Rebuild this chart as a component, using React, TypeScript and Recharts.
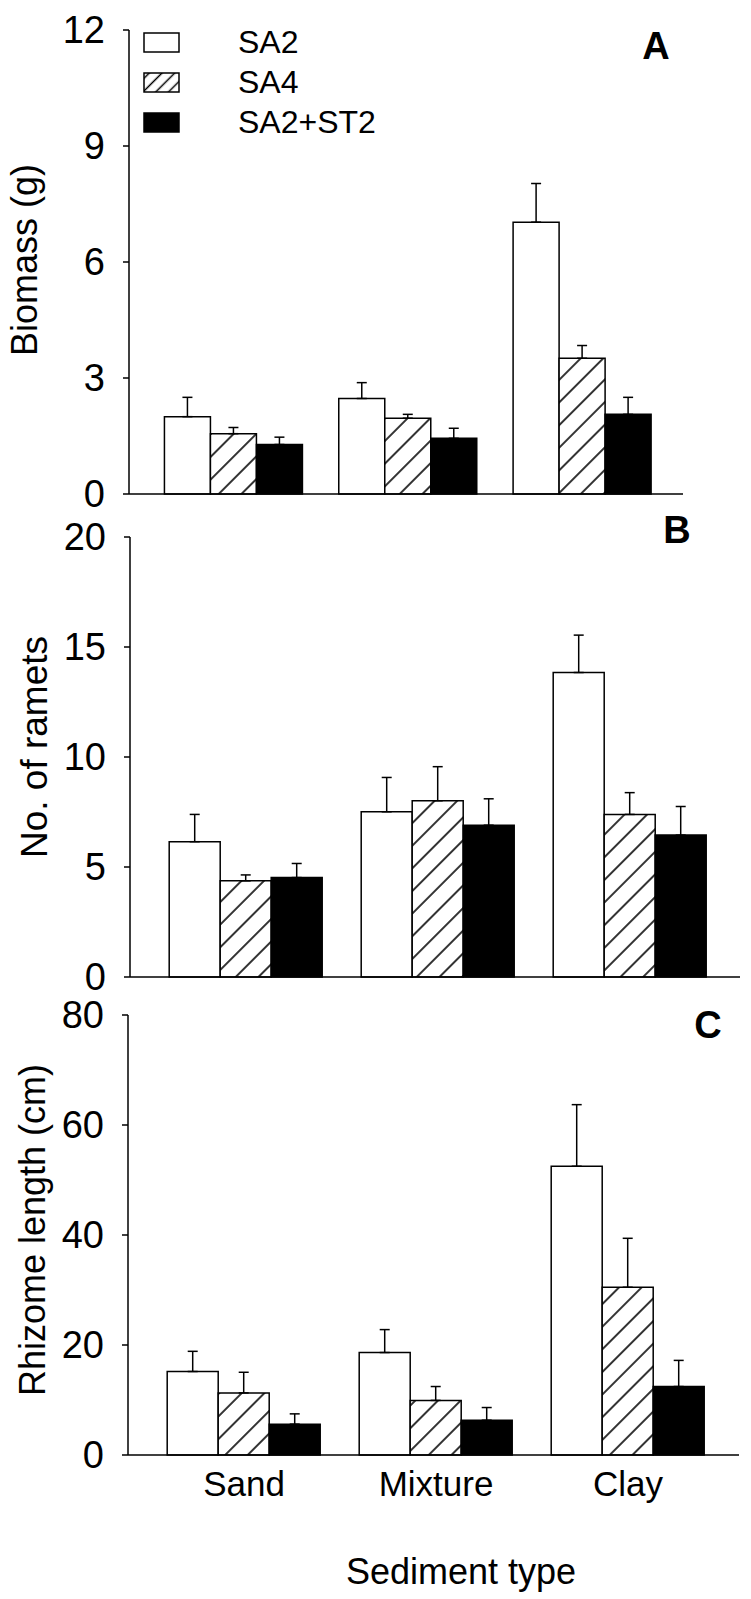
import React from "react";
import { BarChart, Bar, XAxis, YAxis, ErrorBar } from "recharts";

const categories = ["Sand", "Mixture", "Clay"];
const seriesNames = ["SA2", "SA4", "SA2+ST2"];

// Panel A - biomass (g)
const biomassSA2 = [2.0, 2.47, 7.03];
const biomassSA2Err = [0.5, 0.41, 1.0];
const biomassSA4 = [1.56, 1.96, 3.51];
const biomassSA4Err = [0.16, 0.1, 0.33];
const biomassST2 = [1.28, 1.44, 2.06];
const biomassST2Err = [0.19, 0.26, 0.44];
const biomassTicks = [0, 3, 6, 9, 12];

// Panel B - number of ramets
const rametsSA2 = [6.15, 7.51, 13.84];
const rametsSA2Err = [1.24, 1.56, 1.7];
const rametsSA4 = [4.37, 8.01, 7.39];
const rametsSA4Err = [0.27, 1.55, 0.99];
const rametsST2 = [4.52, 6.9, 6.45];
const rametsST2Err = [0.64, 1.2, 1.3];
const rametsTicks = [0, 5, 10, 15, 20];

// Panel C - rhizome length (cm)
const rhizomeSA2 = [15.18, 18.63, 52.5];
const rhizomeSA2Err = [3.67, 4.17, 11.2];
const rhizomeSA4 = [11.29, 9.93, 30.5];
const rhizomeSA4Err = [3.75, 2.52, 8.9];
const rhizomeST2 = [5.61, 6.33, 12.45];
const rhizomeST2Err = [1.87, 2.3, 4.75];
const rhizomeTicks = [0, 20, 40, 60, 80];

const FONT = '"Liberation Sans", Arial, sans-serif';

function buildRows(a: number[], aErr: number[], b: number[], bErr: number[], c: number[], cErr: number[]) {
  // errors are drawn upward only
  return categories.map((name, i) => ({
    name,
    sa2: a[i],
    sa2Err: [0, aErr[i]],
    sa4: b[i],
    sa4Err: [0, bErr[i]],
    st2: c[i],
    st2Err: [0, cErr[i]],
  }));
}

const biomassRows = buildRows(biomassSA2, biomassSA2Err, biomassSA4, biomassSA4Err, biomassST2, biomassST2Err);
const rametsRows = buildRows(rametsSA2, rametsSA2Err, rametsSA4, rametsSA4Err, rametsST2, rametsST2Err);
const rhizomeRows = buildRows(rhizomeSA2, rhizomeSA2Err, rhizomeSA4, rhizomeSA4Err, rhizomeST2, rhizomeST2Err);

function LegendBox() {
  return (
    <svg width={300} height={120} style={{ position: "absolute", left: 140, top: 25 }}>
      <defs>
        <pattern id="hatchLegend" patternUnits="userSpaceOnUse" width={9} height={9} patternTransform="rotate(45)">
          <rect width={9} height={9} fill="#fff" />
          <line x1={4.5} y1={0} x2={4.5} y2={9} stroke="#000" strokeWidth={1.5} />
        </pattern>
      </defs>
      {seriesNames.map((s, i) => {
        const fill = i === 0 ? "#fff" : i === 1 ? "url(#hatchLegend)" : "#000";
        return (
          <g key={s}>
            <rect x={4} y={8 + i * 40} width={35} height={19} fill={fill} stroke="#000" strokeWidth={1.5} />
            <text x={98} y={28 + i * 40} fontFamily={FONT} fontSize={32} fill="#000">
              {s}
            </text>
          </g>
        );
      })}
    </svg>
  );
}

type PanelProps = {
  id: string;
  rows: any[];
  ticks: number[];
  top: number;
  height: number;
  marginTop: number;
  marginRight: number;
  yWidth: number;
  xHeight: number;
  padLeft: number;
  padRight: number;
  showCategories?: boolean;
};

function Panel(p: PanelProps) {
  const hatch = `hatch${p.id}`;
  return (
    <div style={{ position: "absolute", left: 0, top: p.top }}>
      <BarChart
        width={751}
        height={p.height}
        data={p.rows}
        margin={{ top: p.marginTop, right: p.marginRight, bottom: 0, left: 0 }}
        barCategoryGap="10%"
        barGap={0}
      >
        <defs>
          <pattern id={hatch} patternUnits="userSpaceOnUse" width={16} height={16} patternTransform="rotate(45)">
            <rect width={16} height={16} fill="#fff" />
            <line x1={8} y1={0} x2={8} y2={16} stroke="#000" strokeWidth={1.6} />
          </pattern>
        </defs>
        <XAxis
          dataKey="name"
          height={p.xHeight}
          padding={{ left: p.padLeft, right: p.padRight }}
          axisLine={{ stroke: "#000", strokeWidth: 1.5 }}
          tickLine={false}
          tickSize={0}
          tickMargin={16}
          tick={p.showCategories ? { fill: "#000", fontSize: 35, fontFamily: FONT } : false}
          interval={0}
        />
        <YAxis
          width={p.yWidth}
          domain={[p.ticks[0], p.ticks[p.ticks.length - 1]]}
          ticks={p.ticks}
          interval={0}
          axisLine={{ stroke: "#000", strokeWidth: 1.5 }}
          tickLine={{ stroke: "#000", strokeWidth: 1.5 }}
          tickSize={6}
          tickMargin={18}
          tick={{ fill: "#000", fontSize: 38, fontFamily: FONT }}
        />
        <Bar dataKey="sa2" name={seriesNames[0]} fill="#fff" stroke="#000" strokeWidth={1.5} isAnimationActive={false}>
          <ErrorBar dataKey="sa2Err" direction="y" width={5} stroke="#000" strokeWidth={1.5} />
        </Bar>
        <Bar dataKey="sa4" name={seriesNames[1]} fill={`url(#${hatch})`} stroke="#000" strokeWidth={1.5} isAnimationActive={false}>
          <ErrorBar dataKey="sa4Err" direction="y" width={5} stroke="#000" strokeWidth={1.5} />
        </Bar>
        <Bar dataKey="st2" name={seriesNames[2]} fill="#000" stroke="#000" strokeWidth={1.5} isAnimationActive={false}>
          <ErrorBar dataKey="st2Err" direction="y" width={5} stroke="#000" strokeWidth={1.5} />
        </Bar>
      </BarChart>
    </div>
  );
}

export default function App() {
  return (
    <div style={{ position: "absolute", left: 0, top: 0, width: 751, height: 1599, background: "#fff" }}>
      <Panel
        id="A"
        rows={biomassRows}
        ticks={biomassTicks}
        top={0}
        height={520}
        marginTop={30}
        marginRight={68}
        yWidth={129}
        xHeight={26}
        padLeft={18}
        padRight={13}
      />
      <Panel
        id="B"
        rows={rametsRows}
        ticks={rametsTicks}
        top={500}
        height={500}
        marginTop={37}
        marginRight={11}
        yWidth={130}
        xHeight={23}
        padLeft={20}
        padRight={14}
      />
      <Panel
        id="C"
        rows={rhizomeRows}
        ticks={rhizomeTicks}
        top={990}
        height={609}
        marginTop={25}
        marginRight={12}
        yWidth={128}
        xHeight={144}
        padLeft={20}
        padRight={15}
        showCategories
      />
      <LegendBox />
      <svg
        width={751}
        height={1599}
        style={{ position: "absolute", left: 0, top: 0, pointerEvents: "none" }}
        fontFamily={FONT}
      >
        <text x={37} y={260} transform="rotate(-90 37 260)" textAnchor="middle" fontSize={36} fill="#000">
          Biomass (g)
        </text>
        <text x={47} y={747} transform="rotate(-90 47 747)" textAnchor="middle" fontSize={37} fill="#000">
          No. of ramets
        </text>
        <text x={45} y={1230} transform="rotate(-90 45 1230)" textAnchor="middle" fontSize={36} fill="#000">
          Rhizome length (cm)
        </text>
        <text x={461} y={1584} textAnchor="middle" fontSize={36} fill="#000">
          Sediment type
        </text>
        <text x={656} y={59} textAnchor="middle" fontSize={38} fontWeight="bold" fill="#000">
          A
        </text>
        <text x={677} y={543} textAnchor="middle" fontSize={38} fontWeight="bold" fill="#000">
          B
        </text>
        <text x={708} y={1038} textAnchor="middle" fontSize={38} fontWeight="bold" fill="#000">
          C
        </text>
      </svg>
    </div>
  );
}
